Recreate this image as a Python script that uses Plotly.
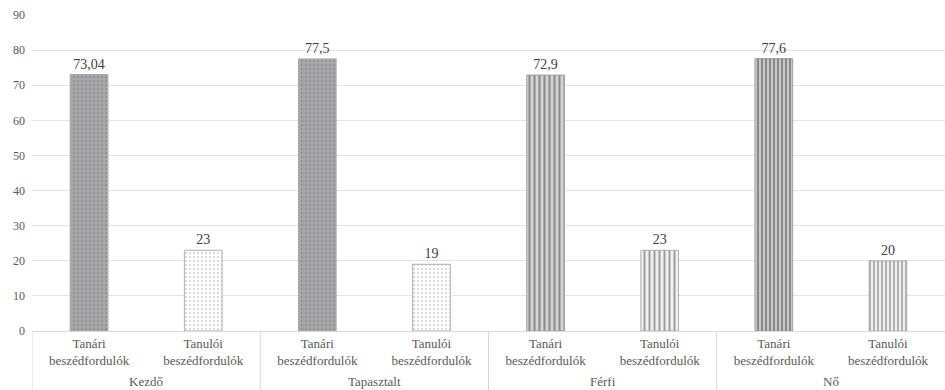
import plotly.graph_objects as go

# Beszédfordulók aránya (%) csoportonként
groups = ["Kezdő", "Tapasztalt", "Férfi", "Nő"]
subcats = ["Tanári<br>beszédfordulók", "Tanulói<br>beszédfordulók"]
values = [73.04, 23, 77.5, 19, 72.9, 23, 77.6, 20]
value_labels = ["73,04", "23", "77,5", "19", "72,9", "23", "77,6", "20"]

y_ticks = [0, 10, 20, 30, 40, 50, 60, 70, 80, 90]

# minták oszloponként
pat_shape = [".", ".", ".", ".", "|", "|", "|", "|"]
pat_bg = ["#a7a7aa", "#ffffff", "#a7a7aa", "#ffffff", "#d4d4d4", "#f0f0f0", "#c8c8c8", "#f0f0f0"]
pat_fg = ["#bebec0", "#ebebeb", "#bebec0", "#ebebeb", "#848484", "#c6c6c6", "#7f7f7f", "#c6c6c6"]
pat_size = [4, 4, 4, 4, 5, 5, 4, 4]
pat_solid = [0.12, 0.12, 0.12, 0.12, 0.42, 0.38, 0.48, 0.38]
edge = ["#a7a7aa", "#b0b0b0", "#a7a7aa", "#b0b0b0", "#a0a0a0", "#b0b0b0", "#a0a0a0", "#b0b0b0"]

FONT = "'Liberation Serif', Tinos, 'Times New Roman', 'DejaVu Serif', serif"

n = len(values)
x = list(range(n))
ticktext = [subcats[i % 2] for i in range(n)]

fig = go.Figure()
fig.add_trace(go.Bar(
    x=x,
    y=values,
    width=0.33,
    text=value_labels,
    textposition="outside",
    textfont=dict(family=FONT, size=14, color="#404040"),
    cliponaxis=False,
    marker=dict(
        color=pat_bg,
        line=dict(color=edge, width=1),
        pattern=dict(
            shape=pat_shape,
            fgcolor=pat_fg,
            size=pat_size,
            solidity=pat_solid,
            fillmode="overlay",
        ),
    ),
    showlegend=False,
))

# csoportfeliratok és elválasztó vonalak az x tengely alatt
div_bottom = -59 / 316
for gi, g in enumerate(groups):
    fig.add_annotation(
        x=gi * 2 + 0.5, y=-0.161, xref="x", yref="paper",
        text=g, showarrow=False, yanchor="middle",
        font=dict(family=FONT, size=13, color="#595959"),
    )
    fig.add_shape(
        type="line", xref="x", yref="paper",
        x0=gi * 2 - 0.5, x1=gi * 2 - 0.5, y0=0, y1=div_bottom,
        line=dict(color="#d9d9d9", width=1),
    )

fig.update_layout(
    template="none",
    width=945, height=390,
    margin=dict(l=32, r=0, t=15, b=59),
    paper_bgcolor="white",
    plot_bgcolor="white",
    bargap=0.67,
    font=dict(family=FONT, color="#595959"),
)
fig.update_xaxes(
    range=[-0.5, n - 0.5],
    tickmode="array", tickvals=x, ticktext=ticktext,
    tickfont=dict(family=FONT, size=13, color="#595959"),
    showline=True, linecolor="#d9d9d9", linewidth=1,
    showgrid=False, ticks="", zeroline=False,
)
fig.update_yaxes(
    range=[0, 90],
    tickmode="array", tickvals=y_ticks,
    tickfont=dict(family=FONT, size=12, color="#595959"),
    showgrid=True, gridcolor="#e3e3e3", gridwidth=1,
    zeroline=False, showline=False, ticks="",
    ticklabelstandoff=6,
)

fig.write_html("out.html")
